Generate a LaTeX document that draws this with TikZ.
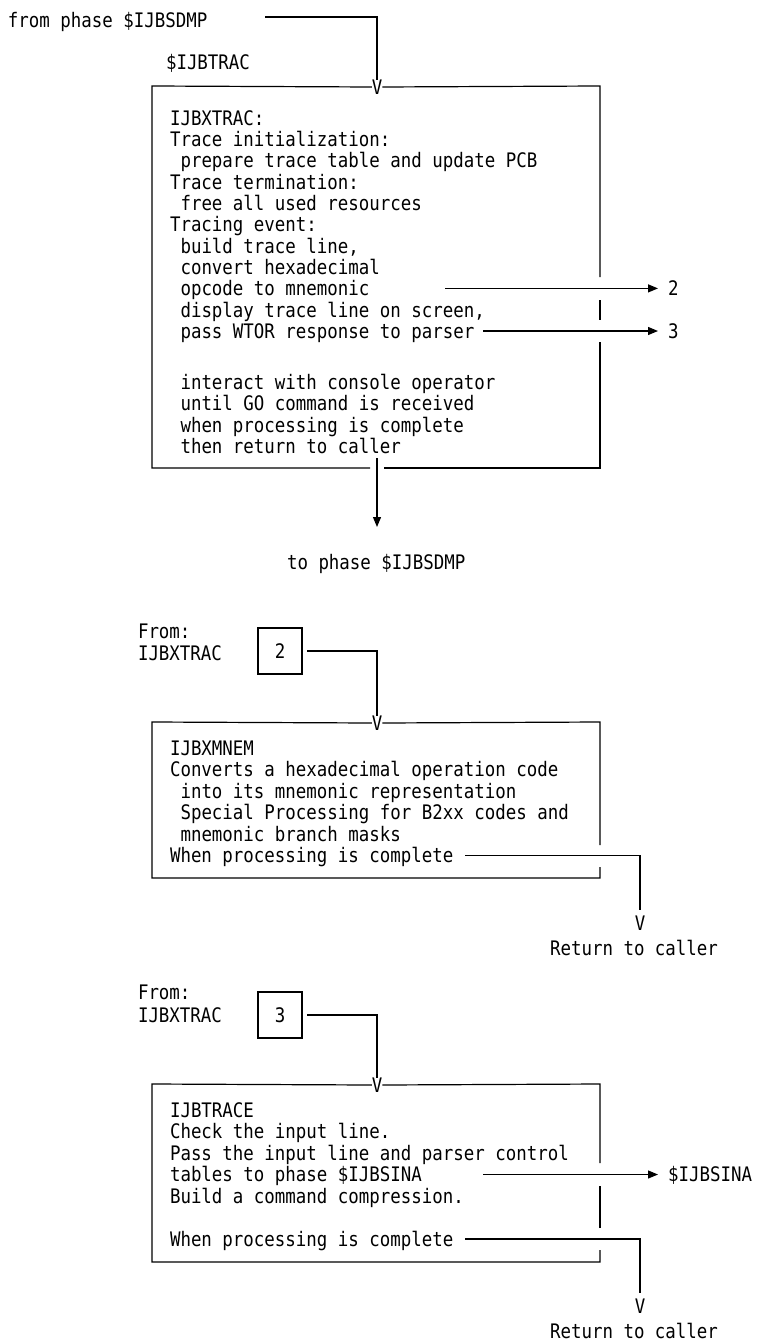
\documentclass[tikz,border=0pt]{standalone}
\usepackage{fontspec}
\usetikzlibrary{arrows.meta}
\newfontfamily\mono[FakeStretch=0.872]{DejaVu Sans Mono}
\newcommand\idt{\phantom{x}}
\begin{document}
\begin{tikzpicture}[x=1pt,y=-1pt,
  every node/.style={font=\mono\fontsize{20}{24}\selectfont, inner sep=0pt, outer sep=0pt},
  ln/.style={anchor=base west},
  vch/.style={anchor=center},
  sbox/.style={draw, line width=1.2pt, minimum width=44pt, minimum height=46pt, anchor=center},
  edge/.style={line width=1.2pt},
  arr/.style={line width=1.2pt, -{Triangle[length=10pt,width=8pt]}},
]
\useasboundingbox (0,0) rectangle (756,1343);
% ---------------- section 1 ----------------
\node[ln] (from1) at (8,27.3) {from phase \$IJBSDMP};
\node[ln] (ph1) at (166,69.3) {\$IJBTRAC};
\node[vch] (v1) at (377,87) {V};
\coordinate (f1a) at (265,17);
\coordinate (f1b) at (377,17);
\draw[edge] (f1a) -- (f1b) -- (v1.north);
% box 1
\draw[edge] (v1.west) -- (152,86) -- (152,468) -- (370,468);
\draw[edge] (v1.east) -- (600,86) -- (600,277);
\draw[edge] (600,300) -- (600,320);
\draw[edge] (600,342) -- (600,468) -- (384,468);
\node[ln] (a0) at (170,125.3) {IJBXTRAC:};
\node[ln] (a1) at (170,146.6) {Trace initialization:};
\node[ln] (a2) at (170,167.9) {\idt prepare trace table and update PCB};
\node[ln] (a3) at (170,189.2) {Trace termination:};
\node[ln] (a4) at (170,210.5) {\idt free all used resources};
\node[ln] (a5) at (170,231.8) {Tracing event:};
\node[ln] (a6) at (170,253.1) {\idt build trace line,};
\node[ln] (a7) at (170,274.4) {\idt convert hexadecimal};
\node[ln] (a8) at (170,295.7) {\idt opcode to mnemonic};
\node[ln] (a9) at (170,317.0) {\idt display trace line on screen,};
\node[ln] (a10) at (170,338.3) {\idt pass WTOR response to parser};
\node[ln] (a12) at (170,389.3) {\idt interact with console operator};
\node[ln] (a13) at (170,410.8) {\idt until GO command is received};
\node[ln] (a14) at (170,432.3) {\idt when processing is complete};
\node[ln] (a15) at (170,453.8) {\idt then return to caller};
% exits
\node[ln] (out2) at (668,295.7) {2};
\node[ln] (out3) at (668,338.3) {3};
\coordinate (s2) at (445,288.4);
\coordinate (e2) at (658,288.4);
\coordinate (s3) at (483,331);
\coordinate (e3) at (658,331);
\draw[arr] (s2) -- (e2);
\draw[arr] (s3) -- (e3);
\coordinate (d1a) at (377,458);
\coordinate (d1b) at (377,527);
\draw[arr] (d1a) -- (d1b);
\node[ln] (to1) at (287,569.3) {to phase \$IJBSDMP};
% ---------------- section 2 ----------------
\node[ln] (fr2) at (138,638.3) {From:};
\node[ln] (fr2b) at (138,660.3) {IJBXTRAC};
\node[sbox] (sb2) at (280,651) {2};
\node[vch] (v2) at (377,723) {V};
\coordinate (c2a) at ([xshift=5pt]sb2.east);
\coordinate (c2b) at (377,651);
\draw[edge] (c2a) -- (c2b) -- (v2.north);
\draw[edge] (v2.west) -- (152,722) -- (152,878) -- (600,878) -- (600,867);
\draw[edge] (600,845) -- (600,722) -- (v2.east);
\node[ln] (b0) at (170,755.3) {IJBXMNEM};
\node[ln] (b1) at (170,776.8) {Converts a hexadecimal operation code};
\node[ln] (b2) at (170,798.3) {\idt into its mnemonic representation};
\node[ln] (b3) at (170,819.8) {\idt Special Processing for B2xx codes and};
\node[ln] (b4) at (170,841.3) {\idt mnemonic branch masks};
\node[ln] (b5) at (170,862.8) {When processing is complete};
\node[vch] (v2r) at (640,923) {V};
\node[anchor=base] (ret2) at (634,955.3) {Return to caller};
\coordinate (r2a) at (465,855.5);
\coordinate (r2b) at (640,855.5);
\coordinate (r2c) at (640,910);
\draw[edge] (r2a) -- (r2b) -- (r2c);
% ---------------- section 3 ----------------
\node[ln] (fr3) at (138,999.3) {From:};
\node[ln] (fr3b) at (138,1022.3) {IJBXTRAC};
\node[sbox] (sb3) at (280,1015) {3};
\node[vch] (v3) at (377,1085) {V};
\coordinate (c3a) at ([xshift=5pt]sb3.east);
\coordinate (c3b) at (377,1015);
\draw[edge] (c3a) -- (c3b) -- (v3.north);
\draw[edge] (v3.west) -- (152,1084) -- (152,1262) -- (600,1262) -- (600,1250);
\draw[edge] (600,1228) -- (600,1186);
\draw[edge] (600,1163) -- (600,1084) -- (v3.east);
\node[ln] (c0) at (170,1117.3) {IJBTRACE};
\node[ln] (c1) at (170,1138.8) {Check the input line.};
\node[ln] (c2) at (170,1160.3) {Pass the input line and parser control};
\node[ln] (c3) at (170,1181.8) {tables to phase \$IJBSINA};
\node[ln] (c4) at (170,1203.3) {Build a command compression.};
\node[ln] (c6) at (170,1246.3) {When processing is complete};
\node[ln] (sina) at (668,1181.8) {\$IJBSINA};
\coordinate (s4) at (483,1174.5);
\coordinate (e4) at (658,1174.5);
\draw[arr] (s4) -- (e4);
\node[vch] (v3r) at (640,1306) {V};
\node[anchor=base] (ret3) at (634,1338.3) {Return to caller};
\coordinate (r3a) at (465,1239);
\coordinate (r3b) at (640,1239);
\coordinate (r3c) at (640,1293);
\draw[edge] (r3a) -- (r3b) -- (r3c);
\end{tikzpicture}
\end{document}
